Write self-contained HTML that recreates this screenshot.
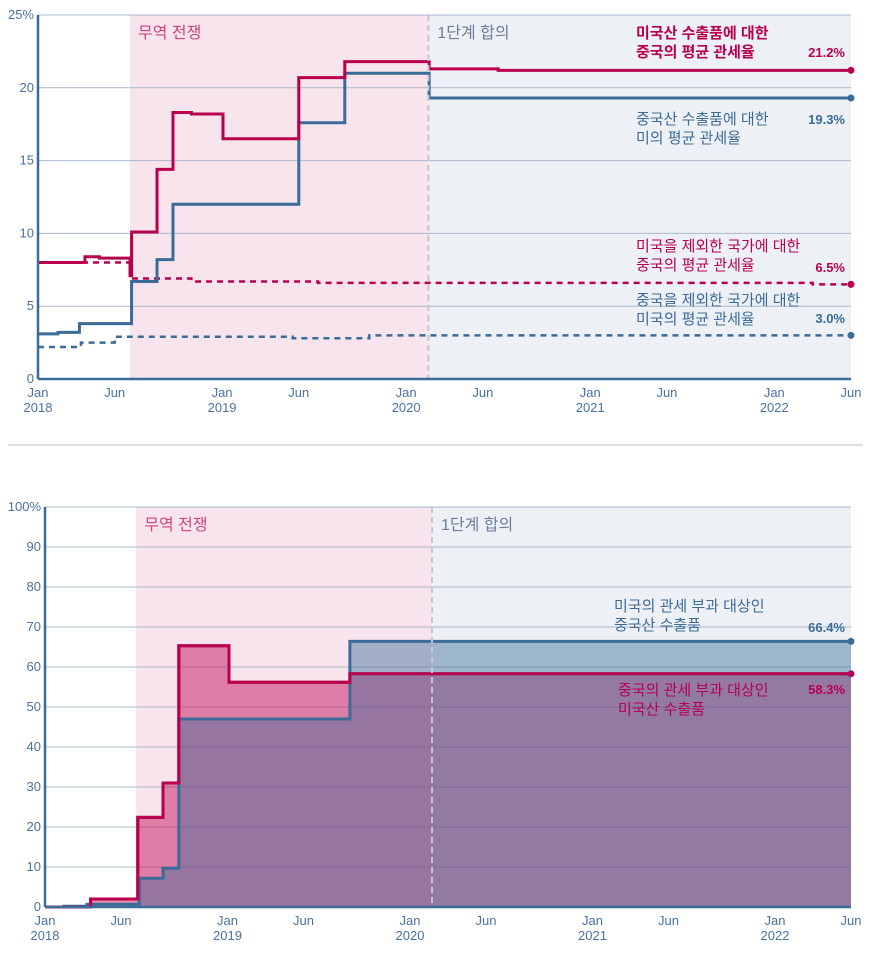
<!DOCTYPE html>
<html><head><meta charset="utf-8"><style>
body{margin:0;background:#fff;}
svg{display:block;font-family:"Liberation Sans","Noto Sans CJK KR",sans-serif;}
</style></head><body>
<svg id="c" width="872" height="964" viewBox="0 0 872 964" xmlns="http://www.w3.org/2000/svg"></svg>
<script>
// ---- top chart data (month index from Jan 2018, value %) ----
const usOnChinaT = [0,3.06,4,6.0,6.1,7.76,8.8,10,12.06,17,20,25.5,30];
const usOnChinaV = [8.0,8.4,8.3,7.1,10.1,14.4,18.3,18.2,16.5,20.7,21.8,21.3,21.2];
const chinaOnUsT = [0,1.3,2.7,6.1,7.76,8.8,17,20,25.5];
const chinaOnUsV = [3.1,3.2,3.8,6.7,8.2,12.0,17.6,21.0,19.3];
const chinaOthersT = [0,6.0,10,18.25,50.5];
const chinaOthersV = [8.0,6.9,6.7,6.6,6.5];
const usOthersT = [0,2.8,5.0,16.6,21.6];
const usOthersV = [2.2,2.5,2.9,2.8,3.0];
const topYTicks = [0,5,10,15,20,25];
// ---- bottom chart data ----
const covChinaT = [0,1.25,2.76,6.2,7.76,8.8,20.05];
const covChinaV = [0,0.2,0.7,7.2,9.7,47,66.4];
const covUsT = [0,3.0,6.1,7.76,8.8,12.1,20.05];
const covUsV = [0,2.0,22.4,31.0,65.3,56.2,58.3];
const botYTicks = [0,10,20,30,40,50,60,70,80,90,100];
const xTickMonths = [0,5,12,17,24,29,36,41,48,53];
const xTickTop = ["Jan","Jun","Jan","Jun","Jan","Jun","Jan","Jun","Jan","Jun"];
const xTickBot = ["2018","","2019","","2020","","2021","","2022",""];

const NS="http://www.w3.org/2000/svg";
const svg=document.getElementById('c');
function mk(tag,attrs,parent){const e=document.createElementNS(NS,tag);for(const k in attrs)e.setAttribute(k,attrs[k]);(parent||svg).appendChild(e);return e;}
const RED="#b8004f",BLUE="#3b6b98",TXT="#4a72a0",GRID="#a9b9cc";

function chart(o){
  const x=m=>o.x0+m*(o.x1-o.x0)/53;
  const y=v=>o.y0-v*(o.y0-o.y1)/o.max;
  const g=mk('g',{});
  
  
  let r=mk('rect',{x:x(o.warS),y:o.y1,width:x(o.warE)-x(o.warS),height:o.y0-o.y1,fill:'#f7e4ec'},g);
  
  
  r=mk('rect',{x:x(o.warE),y:o.y1,width:o.x1-x(o.warE),height:o.y0-o.y1,fill:'#edf0f5'},g);
  
  
  o.ticks.forEach(v=>{
    if(v>0){const l=mk('line',{x1:o.x0,x2:o.x1,y1:y(v),y2:y(v),stroke:GRID,'stroke-width':1},g);
      
      }
    const t=mk('text',{x:o.x0-4,y:y(v)+4,'text-anchor':'end','font-size':13,fill:TXT},g);
    
    
    t.textContent=v+(v===o.max?'%':'');
  });
  xTickMonths.forEach((m,i)=>{
    const t=mk('text',{x:x(m),y:o.y0+18,'text-anchor':'middle','font-size':13,fill:TXT},g);
    
    
    t.textContent=xTickTop[i];
    if(xTickBot[i]){const t2=mk('text',{x:x(m),y:o.y0+33,'text-anchor':'middle','font-size':13,fill:TXT},g);
      
      
      t2.textContent=xTickBot[i];}
  });
  let t=mk('text',{x:x(o.warS)+8,y:o.y1+23,'font-size':16,fill:'#d0447e'},g);
  
  
  t.textContent='무역 전쟁';
  t=mk('text',{x:x(o.warE)+9,y:o.y1+23,'font-size':16,fill:'#6d7e98'},g);
  
  
  t.textContent='1단계 합의';
  return {x,y,g};
}
function stepPath(T,V,x,y,end){
  let d='M'+x(T[0])+','+y(V[0]);
  for(let i=1;i<T.length;i++){d+=' H'+x(T[i])+' V'+y(V[i]);}
  d+=' H'+x(end);return d;
}
function series(c,T,V,color,dash,name,fill,o){
  if(fill){const p=mk('path',{d:stepPath(T,V,c.x,c.y,53)+' V'+o.y0+' H'+c.x(0)+' Z',fill:fill,stroke:'none'},c.g);
    
    }
  const p=mk('path',{d:stepPath(T,V,c.x,c.y,53),fill:'none',stroke:color,'stroke-width':dash?2.5:3,'stroke-dasharray':dash?'6 5':'none'},c.g);
  
  
  const d=mk('circle',{cx:c.x(53),cy:c.y(V[V.length-1]),r:3.5,fill:color},c.g);
  
  
}
function label(lines,xp,yp,color,bold,name,val,vy){
  lines.forEach((s,i)=>{const t=mk('text',{x:xp,y:yp+i*19,'font-size':15,fill:color,'font-weight':bold?'bold':'normal'});
    
    
    t.textContent=s;});
  const t=mk('text',{x:845,y:vy,'font-size':13,'font-weight':'bold',fill:color,'text-anchor':'end'});
  
  
  t.textContent=val;
}
function axes(o){
  const vd=mk('line',{x1:o.vx,x2:o.vx,y1:o.y1,y2:o.y0,stroke:'#c3c6d6','stroke-width':2,'stroke-dasharray':'6 4'});
  
  
  const tl=mk('line',{x1:o.x0,x2:o.x1,y1:o.y1,y2:o.y1,stroke:GRID,'stroke-width':1});
  
  
  const a=mk('line',{x1:o.x0,x2:o.x0,y1:o.y1,y2:o.y0,stroke:BLUE,'stroke-width':2.5});
  
  
  const b=mk('line',{x1:o.x0,x2:o.x1,y1:o.y0,y2:o.y0,stroke:BLUE,'stroke-width':2.5});
  
  
}

// top chart
const o1={name:'average-tariff-chart',x0:38,x1:851,y0:379,y1:15,max:25,warS:6.0,warE:25.45,ticks:topYTicks};
const c1=chart(o1);
series(c1,usOthersT,usOthersV,BLUE,true,'us-tariff-others');
series(c1,chinaOthersT,chinaOthersV,RED,true,'china-tariff-others');
series(c1,chinaOnUsT,chinaOnUsV,BLUE,false,'us-tariff-china');
series(c1,usOnChinaT,usOnChinaV,RED,false,'china-tariff-us');
o1.vx=c1.x(25.45);axes(o1);
label(['미국산 수출품에 대한','중국의 평균 관세율'],636,38,RED,true,'china-tariff-us','21.2%',57);
label(['중국산 수출품에 대한','미의 평균 관세율'],636,124,BLUE,false,'us-tariff-china','19.3%',124);
label(['미국을 제외한 국가에 대한','중국의 평균 관세율'],636,251,RED,false,'china-tariff-others','6.5%',272);
label(['중국을 제외한 국가에 대한','미국의 평균 관세율'],636,305,BLUE,false,'us-tariff-others','3.0%',323);

const sep=mk('line',{x1:8,x2:863,y1:445,y2:445,stroke:'#b8bcc6','stroke-width':1});



// bottom chart
const o2={name:'tariff-coverage-chart',x0:45,x1:851,y0:907,y1:507,max:100,warS:6.0,warE:25.45,ticks:botYTicks};
const c2=chart(o2);
series(c2,covUsT,covUsV,RED,false,'china-coverage',"rgba(190,0,80,0.45)",o2);
series(c2,covChinaT,covChinaV,BLUE,false,'us-coverage',"rgba(61,110,155,0.45)",o2);
const rl=mk('path',{d:stepPath(covUsT,covUsV,c2.x,c2.y,53),fill:'none',stroke:RED,'stroke-width':3});


o2.vx=c2.x(25.45);axes(o2);
label(['미국의 관세 부과 대상인','중국산 수출품'],614,611,BLUE,false,'us-coverage','66.4%',632);
label(['중국의 관세 부과 대상인','미국산 수출품'],618,695,RED,false,'china-coverage','58.3%',694);
</script>
</body></html>
